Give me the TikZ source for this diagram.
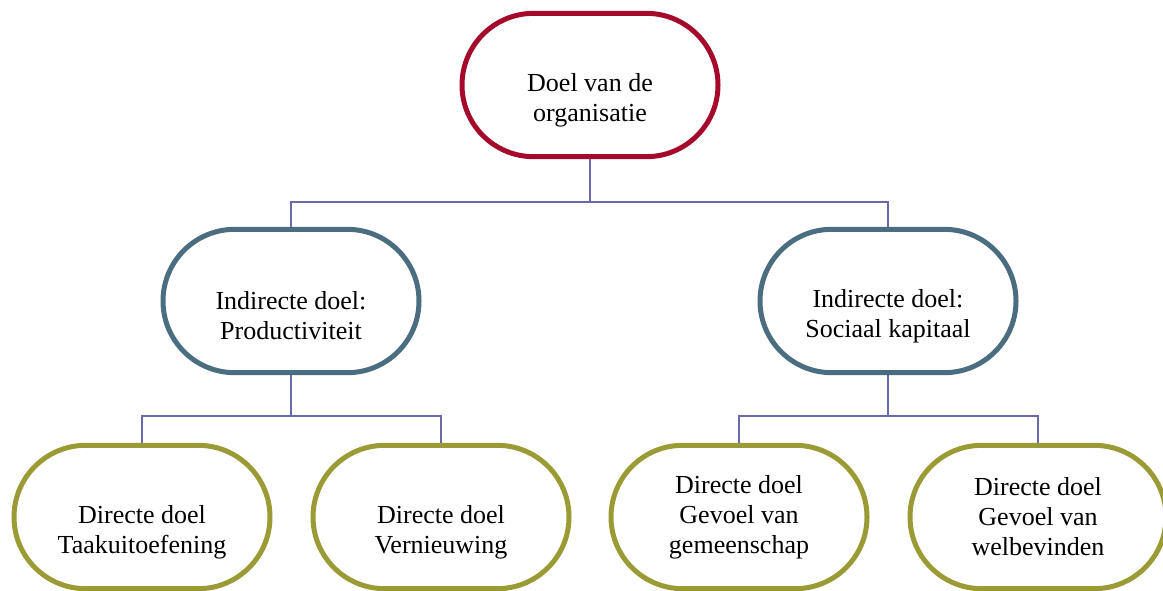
\documentclass[tikz,border=0pt]{standalone}
\usepackage{fontspec}
\setmainfont{Liberation Serif}
\usetikzlibrary{shapes.misc,positioning}
\usepackage{xcolor}
\definecolor{doelrood}{HTML}{A50A2D}
\definecolor{doelblauw}{HTML}{4A6D80}
\definecolor{doelolijf}{HTML}{9B9B35}
\definecolor{lijnpaars}{HTML}{6A6AAA}

\begin{document}
\begin{tikzpicture}[
  x=0.75pt, y=-0.75pt,
  doel/.style={rounded rectangle, draw, line width=3.75pt, fill=white, align=flush center, text width=150pt, minimum width=196pt, minimum height=107.5pt, inner sep=2pt, font=\fontsize{19.5}{22.5}\selectfont},
  tweeregels/.style={text height=36pt},
  hoofd/.style={doel, tweeregels, draw=doelrood},
  indirect/.style={doel, tweeregels, draw=doelblauw},
  direct/.style={doel, draw=doelolijf},
  lijn/.style={draw=lijnpaars, line width=1.1pt}
]
\useasboundingbox (0,0) rectangle (1163,590);
% knooppunten van de lijnen
\coordinate (bus0) at (590,202);
\coordinate (busl) at (291,416);
\coordinate (busr) at (888,416);

\node[hoofd] (org) at (590,85) {Doel van de\\organisatie};
\node[indirect] (prod) at (291,301) {Indirecte doel:\\Productiviteit};
\node[indirect] (soc) at (888,301) {Indirecte doel:\\Sociaal kapitaal};
\node[direct, tweeregels] (taak) at (142,517) {Directe doel\\Taakuitoefening};
\node[direct, tweeregels] (vern) at (441,517) {Directe doel\\Vernieuwing};
\node[direct] (gem) at (739,517) {Directe doel\\Gevoel van\\gemeenschap};
\node[direct] (welb) at (1038,517) {Directe doel\\Gevoel van\\welbevinden};

\draw[lijn] (org.south) -- (bus0) -| (prod.north);
\draw[lijn] (bus0) -| (soc.north);
\draw[lijn] (prod.south) -- (busl) -| (taak.north);
\draw[lijn] (busl) -| (vern.north);
\draw[lijn] (soc.south) -- (busr) -| (gem.north);
\draw[lijn] (busr) -| (welb.north);
\end{tikzpicture}
\end{document}
